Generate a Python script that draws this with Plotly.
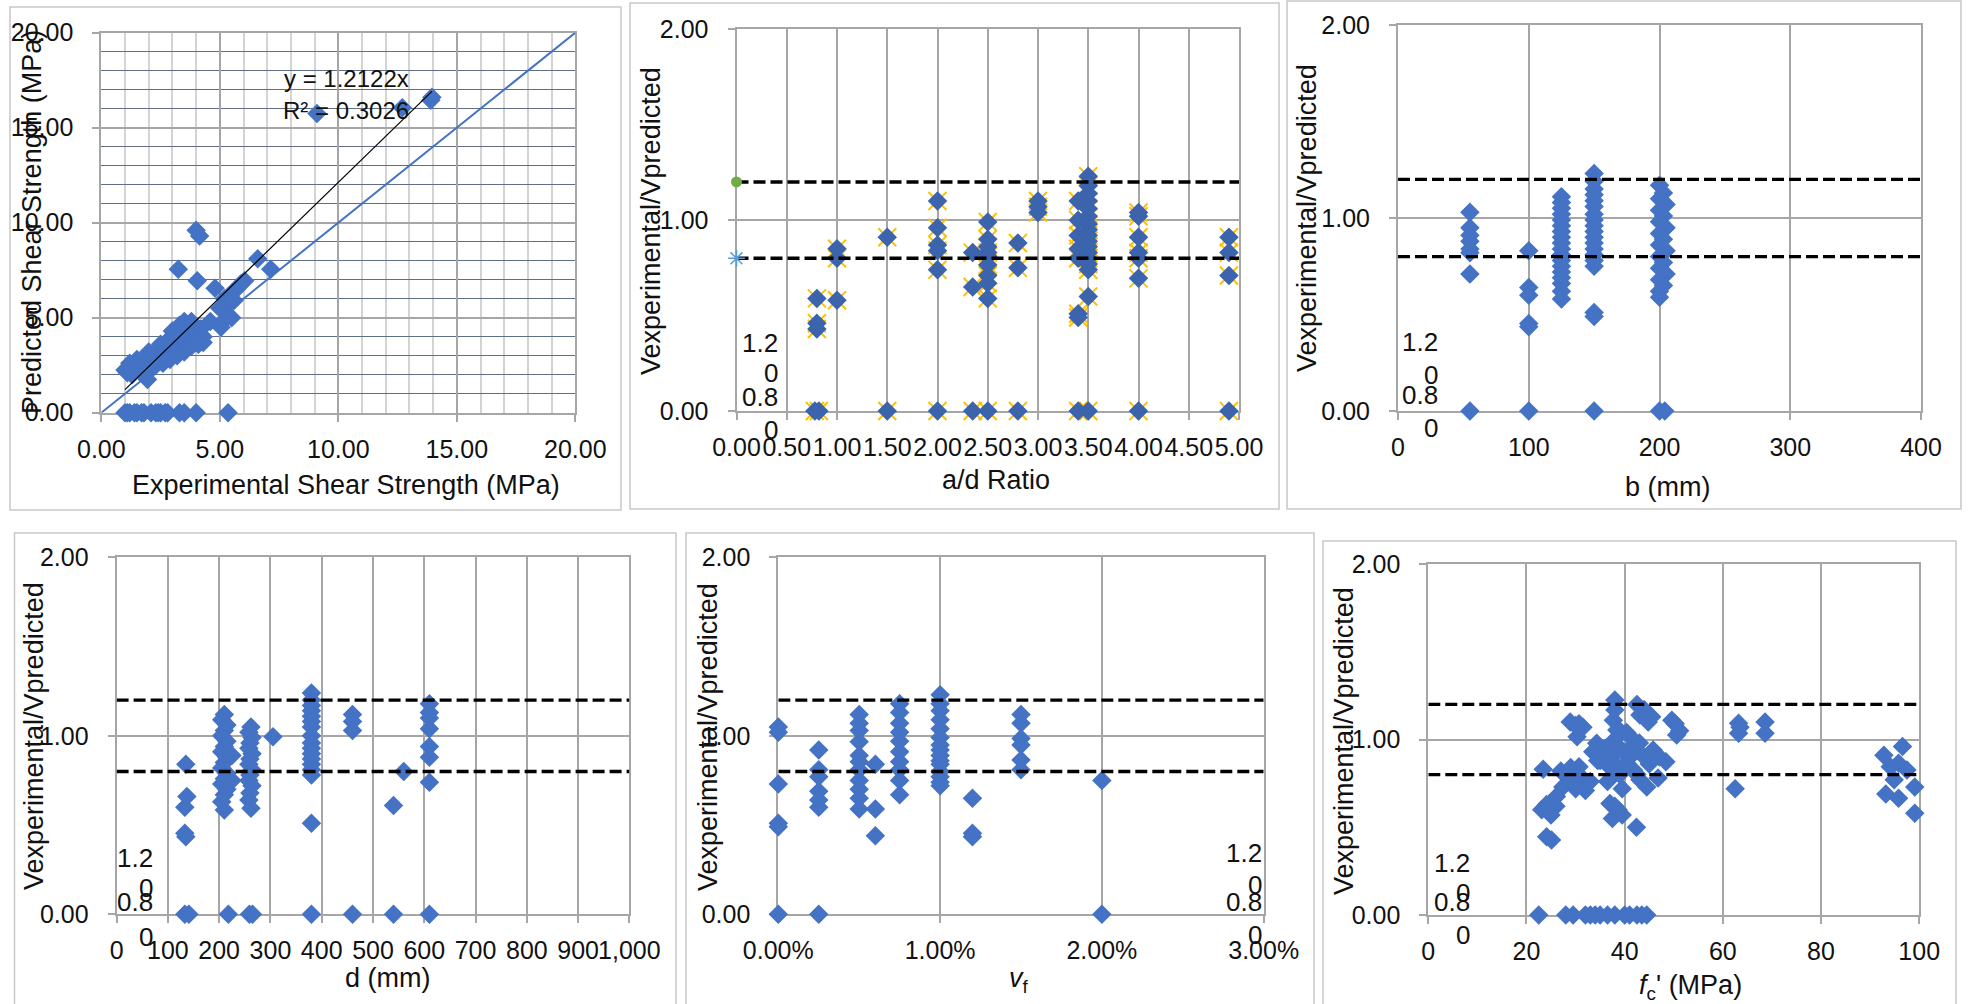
import plotly.graph_objects as go

# ------------------------------------------------------------------ data
# Panel 1: experimental vs predicted shear strength (MPa)
exp_strength = [1.0, 1.1, 1.2, 1.4, 1.5, 1.7, 1.8, 2.1, 2.3, 2.4, 2.5, 2.7, 2.8, 3.3, 3.5, 4.0, 5.35,
                1.0, 1.1, 1.15, 1.25, 1.3, 1.4, 1.45, 1.55, 1.6, 1.7, 1.75, 1.85, 1.9, 1.95, 2.0, 2.05,
                2.1, 2.2, 2.25, 2.3, 2.4, 2.45, 2.5, 2.55, 2.6, 2.7, 2.75, 2.8, 2.9, 2.95, 3.0, 3.05,
                3.1, 3.2, 3.2, 3.3, 3.35, 3.4, 3.45, 3.5, 3.55, 3.6, 3.7, 3.75, 3.8, 3.9, 4.0, 4.1,
                4.2, 4.3, 2.2, 1.8, 2.6, 3.0, 3.3, 3.9,
                1.3, 1.6, 2.0, 2.3, 2.6, 2.9, 3.2, 3.5, 3.8, 4.1, 4.3, 2.8, 3.0, 3.6, 3.8, 2.5, 1.5,
                2.0, 1.2, 3.4, 3.7, 4.0,
                4.0, 4.15, 3.25, 4.05, 4.8, 6.6, 7.15, 6.05, 5.9, 5.5, 5.2, 5.7, 5.35, 5.0, 5.6,
                5.25, 4.6, 5.05, 5.5, 9.1, 12.7, 13.95, 13.9]
pred_strength = [0, 0, 0, 0, 0, 0, 0, 0, 0, 0, 0, 0, 0, 0, 0, 0, 0,
                 2.25, 2.1, 2.35, 2.2, 2.45, 2.3, 2.55, 2.4, 2.65, 2.5, 2.75, 2.6, 2.85, 1.75, 2.5, 2.95,
                 2.7, 3.05, 2.6, 2.85, 3.15, 2.7, 3.0, 3.3, 2.8, 3.1, 3.45, 2.9, 3.25, 3.6, 3.0, 3.85,
                 3.35, 3.7, 4.1, 3.2, 3.95, 4.4, 3.5, 4.8, 3.8, 4.3, 3.55, 4.05, 4.5, 3.75, 4.2, 3.9,
                 4.4, 3.7, 2.4, 2.2, 3.5, 4.3, 4.6, 4.6,
                 2.0, 2.2, 2.35, 2.5, 2.6, 2.8, 3.0, 3.2, 3.5, 3.6, 4.0, 3.8, 4.0, 4.6, 4.8, 3.6, 2.8,
                 3.2, 2.6, 4.2, 4.2, 3.7,
                 9.6, 9.3, 7.55, 6.95, 6.55, 8.1, 7.55, 6.95, 6.8, 6.3, 6.0, 6.5, 5.7, 5.5, 5.9,
                 4.95, 4.8, 4.5, 5.0, 15.75, 16.05, 16.6, 16.45]
trend_slope = 1.2122
trend_r2 = 0.3026
trend_x = [1.0, 13.95]
equality_x = [0, 20]

# Panel 2: a/d ratio
ad_ratio = [0.78, 0.8, 0.8, 0.8, 0.82,
            1.0, 1.0, 1.0,
            1.5, 1.5,
            2.0, 2.0, 2.0, 2.0, 2.0, 2.0,
            2.35, 2.35, 2.35,
            2.5, 2.5, 2.5, 2.5, 2.5, 2.5, 2.5, 2.5, 2.5, 2.5,
            2.8, 2.8, 2.8,
            3.0, 3.0, 3.0,
            3.4, 3.4, 3.4, 3.4, 3.4, 3.4, 3.4, 3.4,
            3.5, 3.5, 3.5, 3.5, 3.5, 3.5, 3.5, 3.5, 3.5, 3.5, 3.5, 3.5, 3.5, 3.5, 3.5, 3.5, 3.5,
            4.0, 4.0, 4.0, 4.0, 4.0, 4.0, 4.0,
            4.9, 4.9, 4.9, 4.9]
ad_ratio_vv = [0.0, 0.59, 0.46, 0.43, 0.0,
               0.85, 0.80, 0.58,
               0.91, 0.0,
               1.10, 0.96, 0.87, 0.84, 0.74, 0.0,
               0.83, 0.65, 0.0,
               0.99, 0.90, 0.86, 0.83, 0.81, 0.765, 0.71, 0.67, 0.59, 0.0,
               0.88, 0.75, 0.0,
               1.10, 1.07, 1.04,
               0.51, 0.49, 0.0, 1.10, 1.00, 0.92, 0.85, 0.80,
               1.23, 1.18, 1.14, 1.10, 1.06, 1.02, 0.98, 0.95, 0.92, 0.89, 0.86, 0.83, 0.80, 0.77, 0.74, 0.60, 0.0,
               1.04, 1.02, 0.91, 0.83, 0.80, 0.695, 0.0,
               0.91, 0.83, 0.71, 0.0]

# Panel 3: b (mm)
b_mm = [55] * 8 + [100] * 6 + [125] * 18 + [150] * 19 + [200, 203, 200, 205, 200, 203, 200, 205, 200, 203,
                                                        200, 205, 200, 203, 200, 205, 200, 203, 200, 200, 200, 204]
b_vv = [1.03, 0.95, 0.91, 0.88, 0.84, 0.82, 0.71, 0.0,
        0.83, 0.64, 0.60, 0.454, 0.437, 0.0,
        1.11, 1.08, 1.05, 1.02, 0.99, 0.96, 0.93, 0.90, 0.87, 0.84, 0.81, 0.78, 0.75, 0.72, 0.69, 0.66, 0.62, 0.58,
        1.23, 1.19, 1.15, 1.12, 1.09, 1.06, 1.02, 0.99, 0.96, 0.93, 0.90, 0.87, 0.84, 0.81, 0.78, 0.75, 0.51, 0.49, 0.0,
        1.17, 1.13, 1.10, 1.07, 1.04, 1.01, 0.98, 0.95, 0.92, 0.89, 0.86, 0.83, 0.80, 0.77, 0.74, 0.71, 0.68, 0.65,
        0.62, 0.59, 0.0, 0.0]

# Panel 4: d (mm)
d_mm = [135, 137, 133, 133, 135, 133, 141,
        210, 205, 215, 210, 205, 215, 210, 205, 215, 210, 205, 215, 210, 205, 215, 210, 205, 210,
        225, 225, 218,
        262, 258, 264, 260, 258, 264, 260, 258, 264, 260, 258, 264, 260, 258, 262, 259, 265,
        305,
        380, 380, 380, 380, 380, 380, 380, 380, 380, 380, 380, 380, 380, 380, 380, 380, 380,
        460, 460, 460, 460,
        540, 540, 560,
        610, 610, 610, 610, 610, 610, 610, 610]
d_vv = [0.84, 0.66, 0.60, 0.454, 0.435, 0.0, 0.0,
        1.12, 1.09, 1.06, 1.03, 1.00, 0.97, 0.94, 0.91, 0.88, 0.85, 0.82, 0.79, 0.76, 0.73, 0.70, 0.67, 0.63, 0.584,
        0.89, 0.75, 0.0,
        1.05, 1.02, 0.99, 0.96, 0.93, 0.90, 0.87, 0.84, 0.81, 0.78, 0.75, 0.72, 0.68, 0.64, 0.594, 0.0, 0.0,
        0.995,
        1.24, 1.20, 1.17, 1.14, 1.11, 1.08, 1.05, 1.00, 0.96, 0.93, 0.90, 0.87, 0.84, 0.81, 0.78, 0.51, 0.0,
        1.12, 1.08, 1.03, 0.0,
        0.61, 0.0, 0.80,
        1.18, 1.13, 1.10, 1.04, 0.94, 0.88, 0.74, 0.0]

# Panel 5: fibre volume fraction vf
vf = [0.0, 0.0, 0.0, 0.0, 0.0, 0.0,
      0.0025, 0.0025, 0.0025, 0.0025, 0.0025, 0.0025, 0.0025,
      0.005, 0.005, 0.005, 0.005, 0.005, 0.005, 0.005, 0.005, 0.005, 0.005, 0.005,
      0.006, 0.006, 0.006,
      0.0075, 0.0075, 0.0075, 0.0075, 0.0075, 0.0075, 0.0075, 0.0075, 0.0075, 0.0075,
      0.01, 0.01, 0.01, 0.01, 0.01, 0.01, 0.01, 0.01, 0.01, 0.01, 0.01, 0.01, 0.01, 0.01, 0.01,
      0.012, 0.012, 0.012,
      0.015, 0.015, 0.015, 0.015, 0.015, 0.015,
      0.02, 0.02]
vf_vv = [1.05, 1.02, 0.73, 0.51, 0.49, 0.0,
         0.92, 0.81, 0.77, 0.69, 0.64, 0.60, 0.0,
         1.12, 1.07, 1.03, 0.967, 0.89, 0.855, 0.81, 0.75, 0.70, 0.65, 0.59,
         0.84, 0.59, 0.44,
         1.18, 1.13, 1.07, 1.02, 0.97, 0.91, 0.855, 0.81, 0.75, 0.67,
         1.23, 1.18, 1.14, 1.09, 1.04, 0.99, 0.948, 0.92, 0.89, 0.86, 0.84, 0.80, 0.77, 0.74, 0.72,
         0.65, 0.454, 0.435,
         1.12, 1.07, 0.985, 0.948, 0.865, 0.81,
         0.75, 0.0]

# Panel 6: concrete strength fc' (MPa)
fc = [23.4, 23.1, 24.1, 24.1, 25.1, 26.1, 27.4, 28.1, 29.4, 30.7, 32.0, 29.7, 28.9, 30.7, 30.3,
      34.3, 35.6, 36.3, 37.7, 35.0, 38.0, 38.0, 37.7, 38.4, 40.4, 37.0, 38.7, 42.4, 39.4, 41.1,
      41.8, 43.1, 43.1, 43.8, 44.8, 45.8, 47.1, 48.4, 46.8, 44.5, 49.6, 50.6,
      63.2, 63.2, 63.5, 62.5, 68.6, 68.6,
      92.8, 96.6, 94.1, 95.8, 97.5, 94.9, 99.1, 93.2, 95.8, 99.1,
      33.5, 34.5, 36.0, 37.0, 38.5, 39.0, 40.0, 40.5, 41.5, 42.0, 43.0, 44.0, 45.0, 36.5, 39.5,
      42.5, 38.0, 39.0, 31.0, 33.0, 27.0, 29.0, 30.0, 26.0, 25.0, 28.5, 38.0, 37.5, 39.5, 41.0,
      45.5, 44.0, 42.5, 31.5, 30.0, 51.2, 50.3,
      22.5, 28.0, 29.5, 32.0, 33.0, 34.0, 35.0, 36.5, 38.0, 40.0, 41.0, 42.5, 43.5, 44.5]
fc_vv = [0.83, 0.60, 0.63, 0.446, 0.427, 0.675, 0.73, 0.80, 0.826, 0.845, 0.71, 0.75, 1.10, 1.09, 1.016,
         0.978, 0.92, 0.86, 0.80, 0.88, 1.225, 1.168, 1.11, 1.054, 1.04, 0.636, 0.598, 0.50, 0.94, 0.90,
         0.826, 0.77, 1.14, 1.168, 1.10, 0.94, 0.90, 0.873, 0.78, 0.73, 1.11, 1.025,
         1.092, 1.035, 1.07, 0.72, 1.10, 1.035,
         0.91, 0.96, 0.845, 0.864, 0.826, 0.77, 0.73, 0.69, 0.665, 0.58,
         0.93, 0.88, 0.95, 0.90, 0.85, 0.80, 0.92, 0.86, 0.96, 0.93, 0.98, 0.90, 0.86, 0.76, 0.72,
         0.80, 1.00, 1.05, 0.79, 0.76, 0.82, 0.84, 0.72, 0.62, 0.57, 0.80, 0.62, 0.55, 0.57, 1.02,
         1.13, 1.17, 1.20, 1.07, 1.08, 1.05, 1.09,
         0, 0, 0, 0, 0, 0, 0, 0, 0, 0, 0, 0, 0, 0]

upper_limit = 1.2
lower_limit = 0.8

# ------------------------------------------------------------------ style / layout helpers
W, H = 1968, 1004
FONT = "Liberation Sans, Arial, sans-serif"
GRID = "#A6A6A6"
BLUE = "#4472C4"
BLUE2 = "#3B64AD"
TXT = "#111111"


def fx(p):
    return p / W


def fy(p):
    return 1 - p / H


# plot areas in pixels: (left, right, top, bottom)
areas = {
    1: (101.3, 575.3, 32.7, 412.7),
    2: (736.5, 1239.0, 29.3, 411.0),
    3: (1398.0, 1921.0, 25.0, 411.0),
    4: (116.6, 629.4, 557.3, 914.3),
    5: (778.3, 1263.7, 557.3, 914.3),
    6: (1428.3, 1919.2, 564.0, 915.0),
}

fig = go.Figure()


def ax(i):
    return ("x" if i == 1 else f"x{i}"), ("y" if i == 1 else f"y{i}")


def diamonds(i, xs, ys, color=BLUE):
    xa, ya = ax(i)
    fig.add_trace(go.Scatter(x=xs, y=ys, mode="markers", xaxis=xa, yaxis=ya,
                             marker=dict(symbol="diamond", size=15, color=color, line=dict(width=0)),
                             cliponaxis=False, showlegend=False, hoverinfo="skip"))


def limits(i, x0, x1):
    xa, ya = ax(i)
    for lv in (upper_limit, lower_limit):
        fig.add_trace(go.Scatter(x=[x0, x1], y=[lv, lv], mode="lines", xaxis=xa, yaxis=ya,
                                 line=dict(color="black", width=3.4, dash="12px,5px"),
                                 showlegend=False, hoverinfo="skip"))


# Panel 1
fig.add_trace(go.Scatter(x=exp_strength, y=pred_strength, mode="markers", xaxis="x", yaxis="y",
                         marker=dict(symbol="diamond", size=15, color=BLUE, line=dict(width=0)),
                         cliponaxis=False, showlegend=False, hoverinfo="skip"))
fig.add_trace(go.Scatter(x=equality_x, y=equality_x, mode="lines", xaxis="x", yaxis="y",
                         line=dict(color=BLUE, width=2), showlegend=False, hoverinfo="skip"))
fig.add_trace(go.Scatter(x=trend_x, y=[trend_slope * v for v in trend_x], mode="lines", xaxis="x", yaxis="y",
                         line=dict(color="black", width=1.2), showlegend=False, hoverinfo="skip"))

# Panel 2 (with gold cross markers behind the diamonds)
fig.add_trace(go.Scatter(x=ad_ratio, y=ad_ratio_vv, mode="markers", xaxis="x2", yaxis="y2",
                         marker=dict(symbol="x-thin-open", size=18, color="#FFC000",
                                     line=dict(color="#F2B400", width=2)),
                         cliponaxis=False, showlegend=False, hoverinfo="skip"))
diamonds(2, ad_ratio, ad_ratio_vv, BLUE2)
limits(2, 0, 5)
fig.add_trace(go.Scatter(x=[0], y=[upper_limit], mode="markers", xaxis="x2", yaxis="y2",
                         marker=dict(symbol="circle", size=11, color="#70AD47", line=dict(width=0)),
                         cliponaxis=False, showlegend=False, hoverinfo="skip"))
fig.add_trace(go.Scatter(x=[0], y=[lower_limit], mode="markers", xaxis="x2", yaxis="y2",
                         marker=dict(symbol="asterisk-open", size=14, color="#5B9BD5",
                                     line=dict(color="#5B9BD5", width=1.5)),
                         cliponaxis=False, showlegend=False, hoverinfo="skip"))

diamonds(3, b_mm, b_vv)
limits(3, 0, 400)
diamonds(4, d_mm, d_vv)
limits(4, 0, 1000)
diamonds(5, vf, vf_vv)
limits(5, 0, 0.03)
diamonds(6, fc, fc_vv)
limits(6, 0, 100)

tickfont = dict(family=FONT, size=25, color=TXT)


def base_axis():
    return dict(showgrid=True, gridcolor=GRID, gridwidth=2, showline=True, linecolor=GRID, linewidth=2,
                mirror=True, ticks="outside", ticklen=7, tickcolor=GRID, tickwidth=2, tickfont=tickfont,
                zeroline=False, fixedrange=True, tickangle=0, layer="below traces", automargin=False)


x_specs = {
    1: dict(range=[0, 20], dtick=5, tick0=0, tickformat=".2f",
            minor=dict(dtick=1, showgrid=True, gridcolor="#D3D3D3", gridwidth=1.5, ticks="")),
    2: dict(range=[0, 5], dtick=0.5, tick0=0, tickformat=".2f"),
    3: dict(range=[0, 400], dtick=100, tick0=0, tickformat="d"),
    4: dict(range=[0, 1000], dtick=100, tick0=0, tickformat=",d"),
    5: dict(range=[0, 0.03], dtick=0.01, tick0=0, tickformat=".2%"),
    6: dict(range=[0, 100], dtick=20, tick0=0, tickformat="d"),
}

layout = dict(width=W, height=H, autosize=False, margin=dict(l=0, r=0, t=0, b=0, pad=0),
              paper_bgcolor="white", plot_bgcolor="white", showlegend=False)

for i in range(1, 7):
    l, r, t, b = areas[i]
    xkey = "xaxis" if i == 1 else f"xaxis{i}"
    ykey = "yaxis" if i == 1 else f"yaxis{i}"
    xa, ya = ax(i)
    xd = base_axis()
    xd.update(x_specs[i])
    xd.update(domain=[fx(l), fx(r)], anchor=ya, ticklabelstandoff=6)
    yd = base_axis()
    if i == 1:
        yd.update(range=[0, 20], dtick=5, tick0=0, tickformat=".2f",
                  minor=dict(dtick=1, showgrid=True, gridcolor="#5E6E88", gridwidth=1, ticks=""))
    else:
        yd.update(range=[0, 2], dtick=1, tick0=0, tickformat=".2f")
    yd.update(domain=[fy(b), fy(t)], anchor=xa, ticklabelstandoff=14)
    layout[xkey] = xd
    layout[ykey] = yd

annotations = []


def text(x, y, s, size=26, angle=0, xanchor="center", yanchor="middle"):
    annotations.append(dict(x=fx(x), y=fy(y), xref="paper", yref="paper", text=s, showarrow=False,
                            textangle=angle, xanchor=xanchor, yanchor=yanchor,
                            font=dict(family=FONT, size=size, color=TXT)))


# x axis titles
text(346, 485, "Experimental Shear Strength (MPa)", size=27)
text(996, 480, "a/d Ratio", size=27)
text(1667, 487, "b (mm)", size=27)
text(387, 978, "d (mm)", size=27)
text(1019, 980, "<i>v</i><sub>f</sub>", size=27)
text(1690, 987, "<i>f</i><sub>c</sub>' (MPa)", size=27)
# y axis titles
text(32, 222, "Predicted Shear Strength (MPa)", size=27, angle=-90)
text(651, 221, "Vexperimental/Vpredicted", size=27, angle=-90)
text(1307, 218, "Vexperimental/Vpredicted", size=27, angle=-90)
text(34, 736, "Vexperimental/Vpredicted", size=27, angle=-90)
text(708, 737, "Vexperimental/Vpredicted", size=27, angle=-90)
text(1344, 741, "Vexperimental/Vpredicted", size=27, angle=-90)
# trendline label
text(346, 78, f"y = {trend_slope}x", size=24)
text(346, 110, f"R² = {trend_r2}", size=24)

# stray wrapped data labels "1.20" / "0.80"
stray = {
    2: (780, 411, (-68, -38, -14, 19)),
    3: (1440, 411, (-69, -36, -16, 17)),
    4: (155, 914, (-56, -26, -12, 23)),
    5: (1264, 914, (-61, -29, -12, 21)),
    6: (1472, 915, (-52, -22, -13, 20)),
}
for i, (xr, yb, offs) in stray.items():
    for s, o in zip(("1.2", "0", "0.8", "0"), offs):
        text(xr, yb + o, s, size=26, xanchor="right")

layout["annotations"] = annotations

# panel frames (pixels)
frames = [(10, 621, 7, 510), (630, 1279, 3, 509), (1287, 1961, 1, 509),
          (14.5, 676, 533, 1010), (686, 1314, 533, 1010), (1323, 1956, 541, 1010)]
layout["shapes"] = [dict(type="rect", xref="paper", yref="paper", x0=fx(a), x1=fx(b2), y0=fy(d), y1=fy(c),
                         line=dict(color="#C8C8C8", width=1.5), fillcolor="rgba(0,0,0,0)", layer="below")
                    for a, b2, c, d in frames]

fig.update_layout(**layout)
fig.write_html("out.html")
